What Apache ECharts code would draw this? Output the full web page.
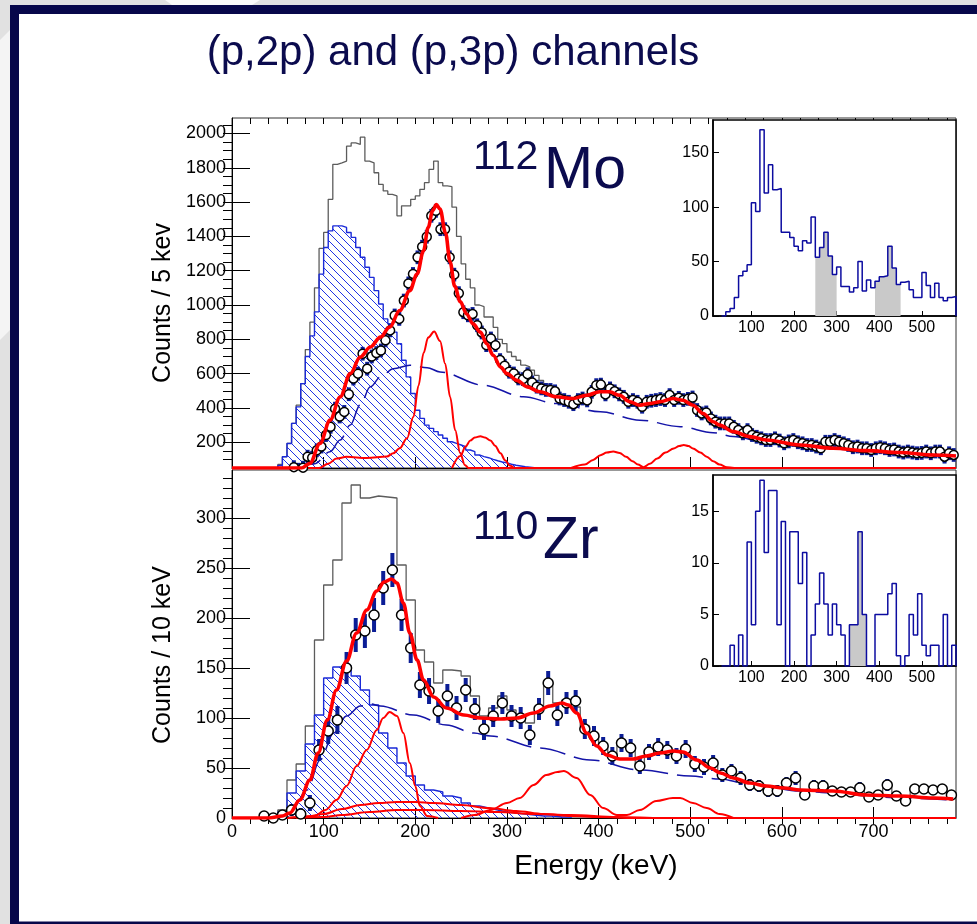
<!DOCTYPE html>
<html>
<head>
<meta charset="utf-8">
<script src="https://cdn.jsdelivr.net/npm/echarts@6/dist/echarts.min.js"></script>
<style>
  html, body { margin: 0; padding: 0; background: #fff; }
  #c { width: 977px; height: 924px; }
</style>
</head>
<body>
<div id="c"></div>
<script>
// ---------- 112Mo : counts / 5 keV ----------
const moPtStart = 67.5, moPtStep = 5;             // bin centres of the subtracted spectrum
const moPoints = [
  55, 40, 52, 116, 110, 153, 175, 242, 290, 396,
  350, 377, 480, 571, 600, 716, 629, 700, 720, 735,
  794, 852, 939, 919, 1026, 1126, 1181, 1278, 1340, 1398,
  1520, 1549, 1442, 1442, 1278, 1177, 1069, 958, 940, 948,
  882, 840, 766, 805, 766, 679, 646, 611, 601, 572,
  568, 597, 549, 524, 514, 505, 505, 497, 455, 446,
  436, 422, 446, 455, 444, 494, 533, 536, 479, 514,
  497, 479, 465, 436, 446, 436, 407, 436, 442, 446,
  452, 446, 475, 446, 459, 446, 453, 461, 388, 368,
  374, 339, 320, 310, 310, 310, 290, 271, 252, 271,
  242, 232, 223, 213, 213, 223, 210, 194, 205, 213,
  200, 194, 184, 184, 175, 165, 203, 203, 213, 203,
  194, 184, 171, 175, 165, 165, 155, 165, 171, 165,
  155, 158, 146, 140, 146, 140, 136, 138, 146, 136,
  146, 146, 116, 136, 126
];
const moPtErr = 40;
const moBin = 5;
const moTotalStart = 50;                           // all events, 50-345 keV
const moTotalLow = [
  71, 116, 193, 310, 416, 542, 740, 900, 1100, 1330,
  1423, 1616, 1820, 1829, 1839, 1926, 1945, 1936, 1978, 1839,
  1829, 1771, 1703, 1665, 1645, 1636, 1520, 1578, 1578, 1616,
  1636, 1674, 1713, 1791, 1839, 1713, 1694, 1690, 1570, 1400,
  1240, 1150, 1100, 1000, 990, 930, 930, 870, 800, 775,
  726, 700, 678, 650, 639, 620, 590, 560, 540, 520
];
const moBgStart = 50;                              // hatched background spectrum
const moBgHist = [
  65, 116, 193, 310, 406, 542, 700, 820, 960, 1180,
  1335, 1432, 1461, 1461, 1452, 1423, 1394, 1335, 1278, 1220,
  1161, 1084, 1006, 919, 890, 842, 774, 678, 581, 484,
  387, 339, 300, 281, 262, 242, 223, 203, 194, 184,
  174, 155, 145, 126, 116, 110, 100, 92, 85, 80,
  72, 66, 62, 58, 55, 52
];
const moFit = [[0,50],[76,50],[85,77],[96,193],[107,329],[118,464],[129,600],[140,697],[151,755],[162,813],[172,871],[183,968],[194,1084],[202,1181],[209,1316],[214,1452],[219,1550],[223,1585],[227,1560],[233,1420],[238,1250],[243,1110],[249,1020],[256,948],[263,890],[271,842],[278,774],[285,707],[293,639],[300,600],[311,561],[322,523],[336,494],[354,465],[372,455],[387,474],[401,494],[412,494],[423,474],[434,436],[445,416],[456,426],[467,436],[481,455],[492,445],[503,416],[514,368],[525,320],[532,300],[547,262],[565,233],[583,213],[620,184],[656,165],[692,151],[729,140],[765,126],[790,120]];
const moBgFn = [[70,50],[90,75],[107,145],[118,213],[129,300],[140,420],[151,523],[162,581],[176,629],[194,649],[213,635],[227,610],[274,533],[318,465],[354,426],[402,378],[445,329],[489,291],[525,256],[547,233],[583,200],[620,180],[656,163],[692,150],[729,138],[790,118]];
const moPeakA = [[0,50],[95,50],[105,75],[114,105],[125,115],[147,108],[169,117],[176,136],[183,165],[191,223],[198,348],[203.5,530],[209,720],[214,810],[220.6,845],[227,790],[232.6,658],[238,464],[243.5,271],[249,136],[254,68],[258,50],[790,50]];
const moPeakB = [[240,50],[249,120],[255,175],[260,210],[265,228],[271,235],[276,228],[282,210],[287,180],[293,136],[298,95],[303,65],[308,50]];
const moPeakC = [[370,50],[385,70],[394,97],[402,125],[409,140],[416,146],[423,138],[430,115],[437,90],[443,70],[449,55],[456,75],[464,106],[473,140],[482,164],[488,178],[493,184],[498,178],[503,164],[511,140],[518,116],[525,90],[532,70],[540,55],[548,50]];

// ---------- 110Zr : counts / 10 keV ----------
const zrPtStart = 35, zrPtStep = 10;
const zrPoints = [
  2, 0, 3, 8, 4, 15, 68, 87, 98, 150,
  183, 187, 203, 230, 248, 203, 170, 133, 127, 107,
  122, 110, 128, 109, 89, 102, 115, 102, 100, 83,
  109, 135, 103, 115, 117, 89, 82, 72, 62, 75,
  70, 52, 66, 71, 68, 62, 69, 54, 51, 55,
  43, 47, 40, 33, 32, 27, 27, 35, 40, 23,
  32, 32, 27, 26, 26, 30, 21, 23, 33, 22,
  17, 29, 29, 28, 29, 23
];
const zrPtErr = [
  3, 3, 4, 6, 6, 8, 11, 13, 14, 16,
  17, 17, 17, 17, 17, 16, 15, 13, 13, 12,
  12, 12, 12, 11, 11, 11, 11, 11, 11, 10,
  11, 12, 11, 11, 11, 10, 10, 9, 9, 9,
  9, 8, 8, 9, 9, 8, 9, 8, 8, 8,
  7, 7, 7, 6, 6, 6, 6, 6, 7, 5,
  6, 6, 5, 5, 5, 6, 5, 5, 6, 5,
  4, 5, 5, 5, 5, 5
];
const zrBin = 10;
const zrTotalStart = 50;                           // all events, 50-380 keV
const zrTotalLow = [
  8, 38, 54, 92, 178, 233, 258, 315, 333, 320,
  322, 321, 320, 253, 218, 168, 156, 135, 148, 147,
  142, 122, 102, 110, 122, 108, 103, 95, 108, 135,
  115, 118, 111, 92
];
const zrBgStart = 50;
const zrBgHist = [
  6, 25, 47, 74, 103, 140, 151, 152, 142, 128,
  113, 85, 70, 55, 42, 33, 28, 26, 22, 20,
  15, 12, 10, 8, 6, 5, 4, 3, 2, 2, 1, 1
];
const zrFit = [[0,0],[40,0],[55,2],[63,5],[74,18],[85,38],[94,65],[104,98],[114,128],[125,157],[136,185],[147,208],[158,227],[166,236],[174,239],[180,235],[187,215],[194,185],[202,158],[209,138],[220,121],[234,110],[253,103],[271,100],[293,99],[311,100],[329,105],[347,112],[360,115],[367,113],[376,105],[387,85],[398,72],[409,63],[423,59],[438,59],[452,62],[467,65],[482,67],[492,66],[507,58],[522,50],[533,45],[547,40],[565,35],[583,32],[602,30],[620,28],[656,27],[692,23],[729,22],[765,20],[787,19]];
const zrBgFn = [[30,0],[50,2],[65,8],[82,28],[96,58],[111,85],[125,102],[140,112],[151,114],[162,112],[198,103],[234,93],[264,85],[282,82],[336,70],[391,58],[445,48],[500,42],[532,39],[565,34],[620,27],[656,25],[692,22],[729,20],[787,18]];
const zrPeakA = [[60,0],[90,2],[102,8],[114,18],[125,32],[136,52],[147,68],[158,88],[165,100],[172,106],[180,102],[187,85],[194,55],[200,32],[205,12],[213,2],[225,0]];
const zrBroadA = [[60,0],[80,1],[100,4],[120,9],[140,13],[160,15],[180,16],[200,16],[220,15],[250,13],[280,10],[310,7],[340,4],[370,2],[400,1],[440,0],[790,0]];
const zrBroadB = [[70,0],[100,1],[120,3],[150,6],[180,8],[210,8],[250,7],[290,6],[330,4],[370,3],[420,1],[470,0],[790,0]];
const zrPeakC = [[250,0],[265,3],[282,8],[300,15],[314,20],[329,33],[343,43],[355,46],[362,47],[376,40],[391,23],[405,10],[420,3],[431,3],[445,8],[463,17],[481,20],[489,20],[503,15],[518,10],[532,4],[547,0]];

// ---------- inset spectra (10 keV bins from 30 keV) ----------
const insetStart = 30, insetBin = 10;
const moInset = [
  0, 4, 7, 17, 37, 41, 47, 104, 96, 171,
  113, 139, 116, 117, 77, 77, 72, 64, 60, 69,
  67, 91, 54, 63, 77, 55, 38, 45, 27, 27,
  22, 26, 50, 23, 33, 26, 32, 36, 37, 64,
  44, 29, 31, 32, 24, 17, 17, 40, 28, 17,
  30, 17, 14, 17, 18
];
const moGates = [[250, 300], [390, 450]];
const zrInset = [
  0, 0, 2, 0, 3, 0, 12, 4, 15, 18,
  11, 17, 17, 4, 14, 0, 13, 13, 8, 11,
  0, 3, 6, 9, 6, 3, 6, 4, 3, 0,
  4, 4, 13, 5, 0, 0, 5, 5, 5, 7,
  8, 1, 0, 1, 5, 3, 7, 2, 1, 2,
  2, 0, 5, 0, 2
];
const zrGates = [[330, 370]];

// ---------- tick labels ----------
const xMajor = [0, 100, 200, 300, 400, 500, 600, 700];
const moYMajor = [200, 400, 600, 800, 1000, 1200, 1400, 1600, 1800, 2000];
const zrYMajor = [0, 50, 100, 150, 200, 250, 300];
const insetXTicks = [100, 200, 300, 400, 500];
const moInsetY = [0, 50, 100, 150];
const zrInsetY = [0, 5, 10, 15];

// ---------- helpers ----------
const FONT = '"Liberation Sans", Arial, Helvetica, sans-serif';
const NAVY = '#0b0b4e';
const RED = '#ff0000';
const BLUE = '#1a2ad8';
const plain = v => String(v);

function steps(a, b, s) { const r = []; for (let v = a; v <= b + 1e-9; v += s) r.push(Math.round(v * 1000) / 1000); return r; }

// outline of a binned histogram, closed down to `base`
function hist(start, w, vals, base) {
  const d = [[start, base]];
  vals.forEach((v, i) => d.push([start + i * w, v]));
  const end = start + vals.length * w;
  d.push([end, vals[vals.length - 1]]);
  d.push([end, base]);
  return d;
}
function gate(start, w, vals, lo, hi) {
  return hist(lo, w, vals.slice((lo - start) / w, (hi - start) / w), 0);
}
function hatch(color, s) {
  const c = document.createElement('canvas');
  c.width = s; c.height = s;
  const g = c.getContext('2d');
  g.strokeStyle = color; g.lineWidth = 1;
  g.beginPath();
  g.moveTo(-1, -1); g.lineTo(s + 1, s + 1);
  g.moveTo(-1, s - 1); g.lineTo(1, s + 1);
  g.moveTo(s - 1, -1); g.lineTo(s + 1, 1);
  g.stroke();
  return c;
}
const hatchFill = { image: hatch('#1f33e6', 8), repeat: 'repeat' };

function errRender(params, api) {
  const x = api.value(0);
  const a = api.coord([x, api.value(2)]);
  const b = api.coord([x, api.value(1)]);
  const cs = params.coordSys;
  const r = echarts.graphic.clipRectByRect(
    { x: a[0] - 2, y: a[1], width: 4, height: b[1] - a[1] },
    { x: cs.x, y: cs.y, width: cs.width, height: cs.height });
  return r ? { type: 'rect', shape: r, style: { fill: '#0b1d96' } } : null;
}

function panelSeries(ax, cfg) {
  const base = cfg.base;
  const pts = cfg.points.map((v, i) => [cfg.ptStart + i * cfg.ptStep, v]);
  const errs = cfg.points.map((v, i) => {
    const e = Array.isArray(cfg.err) ? cfg.err[i] : cfg.err;
    return [cfg.ptStart + i * cfg.ptStep, v - e, v + e];
  });
  // all-events spectrum: low part as read, above that it runs with the points
  const firstHigh = Math.round((cfg.totalStart + cfg.totalLow.length * cfg.bin + cfg.bin / 2 - cfg.ptStart) / cfg.ptStep);
  const total = cfg.totalLow.concat(cfg.points.slice(firstHigh));
  const common = { xAxisIndex: ax.x, yAxisIndex: ax.y, silent: true };
  const curve = (data, width, color, z, dash) => Object.assign({
    type: 'line', data, smooth: 0.35, smoothMonotone: 'x', z, symbol: 'none',
    lineStyle: { color, width, type: dash || 'solid' }
  }, common);
  return [
    Object.assign({ type: 'line', step: 'end', z: 2, symbol: 'none', data: hist(cfg.totalStart, cfg.bin, total, base),
      lineStyle: { color: '#5c5c5c', width: 1.3 } }, common),
    Object.assign({ type: 'line', step: 'end', z: 3, symbol: 'none', data: hist(cfg.bgStart, cfg.bin, cfg.bgHist, base),
      lineStyle: { color: BLUE, width: 1.4 }, areaStyle: { color: hatchFill, origin: 'start', opacity: 1 } }, common),
    curve(cfg.bgFn, 1.5, '#1414a8', 4, [26, 9]),
    ...cfg.peaks.map(p => curve(p, 2, RED, 5)),
    Object.assign({ type: 'custom', z: 6, renderItem: errRender, data: errs,
      encode: { x: 0, y: [1, 2] } }, common),
    Object.assign({ type: 'scatter', z: 7, data: pts, symbol: 'circle', symbolSize: cfg.size,
      itemStyle: { color: '#fff', borderColor: '#000', borderWidth: 1.5, opacity: 1 } }, common),
    curve(cfg.fit, 3.6, RED, 8)
  ];
}

function insetSeries(ax, vals, gates) {
  const common = { xAxisIndex: ax.x, yAxisIndex: ax.y, symbol: 'none', silent: true };
  const s = gates.map(g => Object.assign({
    type: 'line', step: 'end', z: 22, data: gate(insetStart, insetBin, vals, g[0], g[1]),
    lineStyle: { width: 0 }, areaStyle: { color: '#c9c9c9', origin: 'start', opacity: 1 }
  }, common));
  s.push(Object.assign({
    type: 'line', step: 'end', z: 23, data: hist(insetStart, insetBin, vals, 0),
    lineStyle: { color: '#0c0ca0', width: 1.5 }
  }, common));
  return s;
}

const tickLabel = { fontFamily: FONT, fontSize: 18, color: '#000', formatter: plain };
function majorX(grid, labels) {
  return { gridIndex: grid, type: 'value', min: 0, max: 790,
    axisLine: { show: true, onZero: false, lineStyle: { color: '#000', width: 1 } },
    axisTick: { show: true, inside: true, length: 11, customValues: xMajor, lineStyle: { color: '#000' } },
    axisLabel: Object.assign({ show: labels, customValues: xMajor, margin: 5 }, tickLabel),
    splitLine: { show: false } };
}
function minorX(grid) {
  return { gridIndex: grid, type: 'value', min: 0, max: 790,
    axisLine: { show: false }, axisLabel: { show: false }, splitLine: { show: false },
    axisTick: { show: true, inside: true, length: 6, customValues: steps(20, 780, 20), lineStyle: { color: '#000' } } };
}
function majorY(grid, min, max, vals) {
  return { gridIndex: grid, type: 'value', min, max,
    axisLine: { show: true, onZero: false, lineStyle: { color: '#000', width: 1 } },
    axisTick: { show: true, inside: true, length: 18, customValues: vals, lineStyle: { color: '#000' } },
    axisLabel: Object.assign({ show: true, customValues: vals, margin: 6 }, tickLabel),
    splitLine: { show: false } };
}
function minorY(grid, min, max, ticks) {
  return { gridIndex: grid, type: 'value', min, max,
    axisLine: { show: false }, axisLabel: { show: false }, splitLine: { show: false },
    axisTick: { show: true, inside: true, length: 9, customValues: ticks, lineStyle: { color: '#000' } } };
}
function insetXAxis(grid) {
  return { gridIndex: grid, type: 'value', min: 10, max: 580, z: 21,
    axisLine: { show: true, onZero: false, lineStyle: { color: '#000', width: 1.5 } },
    axisTick: { show: true, inside: true, length: 5, customValues: insetXTicks, lineStyle: { color: '#000' } },
    axisLabel: { show: true, customValues: insetXTicks, margin: 4, fontFamily: FONT, fontSize: 16, color: '#000', formatter: plain },
    splitLine: { show: false } };
}
function insetYAxis(grid, max, vals) {
  return { gridIndex: grid, type: 'value', min: 0, max, z: 21,
    axisLine: { show: true, onZero: false, lineStyle: { color: '#000', width: 1.5 } },
    axisTick: { show: true, inside: true, length: 6, customValues: vals, lineStyle: { color: '#000' } },
    axisLabel: { show: true, customValues: vals, margin: 4, fontFamily: FONT, fontSize: 16, color: '#000', formatter: plain },
    splitLine: { show: false } };
}

// ---------- slide frame and texts ----------
const graphics = [
  { type: 'rect', z: -30, shape: { x: 0, y: 0, width: 977, height: 924 }, style: { fill: '#e1e1e1' }, silent: true },
  { type: 'polygon', z: -29, shape: { points: [[0, 40], [10, 30], [10, 330], [0, 340]] }, style: { fill: '#f4f4f4' }, silent: true },
  { type: 'polygon', z: -29, shape: { points: [[165, 0], [260, 0], [252, 5], [172, 5]] }, style: { fill: '#fafafa' }, silent: true },
  { type: 'rect', z: -28, shape: { x: 10, y: 5, width: 967, height: 919 }, style: { fill: '#07074a' }, silent: true },
  { type: 'rect', z: -27, shape: { x: 19, y: 14, width: 958, height: 907.5 }, style: { fill: '#ffffff' }, silent: true },
  { type: 'text', z: 50, x: 453, y: 53, silent: true,
    style: { text: '(p,2p) and (p,3p) channels', fontFamily: FONT, fontSize: 42, fill: NAVY, align: 'center', verticalAlign: 'middle' } },
  { type: 'text', z: 50, x: 163, y: 303, rotation: Math.PI / 2, silent: true,
    style: { text: 'Counts / 5 kev', fontFamily: FONT, fontSize: 25, fill: '#000', align: 'center', verticalAlign: 'middle' } },
  { type: 'text', z: 50, x: 163, y: 655, rotation: Math.PI / 2, silent: true,
    style: { text: 'Counts / 10 keV', fontFamily: FONT, fontSize: 25, fill: '#000', align: 'center', verticalAlign: 'middle' } },
  { type: 'text', z: 50, x: 596, y: 866, silent: true,
    style: { text: 'Energy (keV)', fontFamily: FONT, fontSize: 28, fill: '#000', align: 'center', verticalAlign: 'middle' } },
  { type: 'text', z: 50, x: 473, y: 158, silent: true,
    style: { text: '112', fontFamily: FONT, fontSize: 41, fill: NAVY, align: 'left', verticalAlign: 'middle' } },
  { type: 'text', z: 50, x: 544, y: 172, silent: true,
    style: { text: 'Mo', fontFamily: FONT, fontSize: 59, fill: NAVY, align: 'left', verticalAlign: 'middle' } },
  { type: 'text', z: 50, x: 473, y: 528, silent: true,
    style: { text: '110', fontFamily: FONT, fontSize: 41, fill: NAVY, align: 'left', verticalAlign: 'middle' } },
  { type: 'text', z: 50, x: 543, y: 542, silent: true,
    style: { text: 'Zr', fontFamily: FONT, fontSize: 59, fill: NAVY, align: 'left', verticalAlign: 'middle' } }
];

const option = {
  animation: false,
  backgroundColor: 'transparent',
  graphic: graphics,
  grid: [
    { left: 232, top: 118, width: 724, height: 350, show: true, borderColor: '#333', borderWidth: 1, backgroundColor: 'transparent' },
    { left: 232, top: 470, width: 724, height: 348, show: true, borderColor: '#333', borderWidth: 1, backgroundColor: 'transparent' },
    { left: 713, top: 120, width: 243, height: 196, show: true, z: 20, borderColor: '#000', borderWidth: 1.5, backgroundColor: '#fff' },
    { left: 713, top: 475, width: 243, height: 191, show: true, z: 20, borderColor: '#000', borderWidth: 1.5, backgroundColor: '#fff' }
  ],
  xAxis: [
    majorX(0, false), minorX(0),
    majorX(1, true), minorX(1),
    insetXAxis(2), insetXAxis(3)
  ],
  yAxis: [
    majorY(0, 50, 2090, moYMajor), minorY(0, 50, 2090, steps(100, 2050, 50)),
    majorY(1, 0, 348, zrYMajor), minorY(1, 0, 348, steps(10, 340, 10)),
    insetYAxis(2, 180, moInsetY), insetYAxis(3, 18.5, zrInsetY)
  ],
  series: [
    ...panelSeries({ x: 0, y: 0 }, {
      base: 50, points: moPoints, ptStart: moPtStart, ptStep: moPtStep, err: moPtErr, size: 9,
      totalStart: moTotalStart, totalLow: moTotalLow, bin: moBin,
      bgStart: moBgStart, bgHist: moBgHist, bgFn: moBgFn,
      peaks: [moPeakA, moPeakB, moPeakC], fit: moFit
    }),
    ...panelSeries({ x: 2, y: 2 }, {
      base: 0, points: zrPoints, ptStart: zrPtStart, ptStep: zrPtStep, err: zrPtErr, size: 10,
      totalStart: zrTotalStart, totalLow: zrTotalLow, bin: zrBin,
      bgStart: zrBgStart, bgHist: zrBgHist, bgFn: zrBgFn,
      peaks: [zrPeakA, zrBroadA, zrBroadB, zrPeakC], fit: zrFit
    }),
    ...insetSeries({ x: 4, y: 4 }, moInset, moGates),
    ...insetSeries({ x: 5, y: 5 }, zrInset, zrGates)
  ]
};

const chart = echarts.init(document.getElementById('c'), null, { renderer: 'canvas', width: 977, height: 924 });
chart.setOption(option);
</script>
</body>
</html>
